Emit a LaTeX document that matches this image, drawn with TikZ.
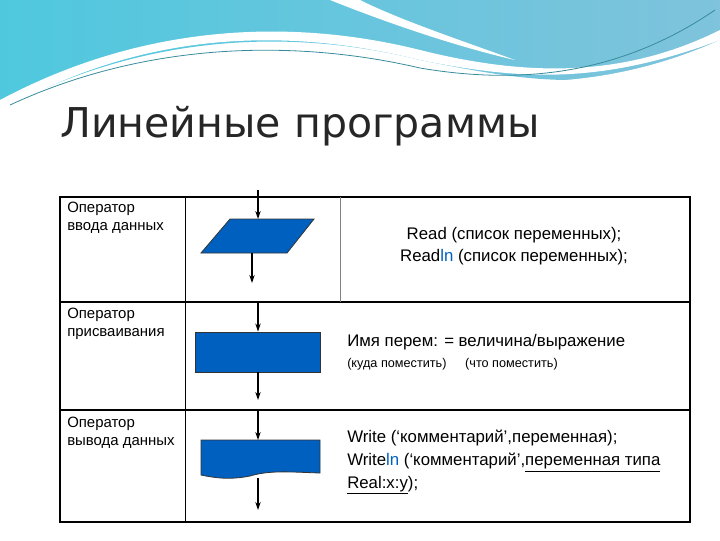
\documentclass[tikz,border=0pt]{standalone}
\usepackage{fontspec}
\setmainfont{Liberation Sans}
\newfontfamily\titlefont{DejaVu Sans}
\usetikzlibrary{arrows.meta}
\definecolor{blk}{HTML}{0060C0}
\definecolor{skyA}{HTML}{7FC3DC}
\definecolor{skyB}{HTML}{4FC8DE}
\begin{document}
\begin{tikzpicture}[x=0.75pt,y=-0.75pt,
  cell/.style={draw=black,line width=0.5pt},
  blockshape/.style={draw=black!80,fill=blk,line width=0.6pt},
  flow/.style={-{Stealth[length=6pt,width=4pt]},line width=1.2pt},
  txt/.style={font=\fontsize{11.2}{13}\selectfont,anchor=north west,inner sep=0pt,align=left},
  code/.style={font=\fontsize{12.6}{17}\selectfont,inner sep=0pt}]
\useasboundingbox (0,0) rectangle (720,540);
% banner
\shade[left color=skyB,right color=skyA] (0,0) -- (720,0) -- (720,40) .. controls (620,100) and (520,80) .. (420,60) .. controls (300,30) and (150,30) .. (0,110) -- cycle;
\fill[white] (0,112) .. controls (150,25) and (300,30) .. (420,60) .. controls (520,80) and (600,85) .. (720,40) -- (720,30) .. controls (620,80) and (520,75) .. (420,50) .. controls (300,20) and (150,20) .. (0,100) -- cycle;
\fill[white] (330,0) .. controls (380,20) and (450,45) .. (515,60) .. controls (460,40) and (400,20) .. (360,0) -- cycle;
\draw[skyB!70!black,line width=0.6pt] (10,105) .. controls (150,40) and (300,40) .. (420,68) .. controls (520,85) and (620,75) .. (715,10);
\fill[white] (0,112) .. controls (150,40) and (300,45) .. (420,72) .. controls (520,90) and (620,85) .. (720,40) -- (720,540) -- (0,540) -- cycle;
% title
\node[anchor=base west,inner sep=0pt,font=\titlefont\fontsize{30.8}{33}\selectfont,text=black!85] (title) at (60,137) {Линейные программы};
% table
\draw[cell,line width=1pt] (60,197) rectangle (690,522);
\draw[cell,line width=1pt] (60,302) -- (690,302) (60,410) -- (690,410);
\draw[cell] (185,197) -- (185,522);
\draw[cell,black!50] (340,197) -- (340,302);
% row labels
\node[txt] (l1) at (67,202) {Оператор\\ввода данных};
\node[txt] (l2) at (67,308) {Оператор\\присваивания};
\node[txt] (l3) at (67,417) {Оператор\\вывода данных};
% shapes
\coordinate (in1) at (258,190);
\fill[blk] (230,219) -- (314,219) -- (287,253) -- (201,253) -- cycle;
\draw[black!80,line width=0.6pt] (230,219) -- (314,219) -- (287,253) -- (201,253) -- cycle;
\coordinate (p1t) at (258,219); \coordinate (p1b) at (252,253); \coordinate (o1) at (252,283);
\draw[flow] (in1) -- (p1t);
\draw[flow] (p1b) -- (o1);
\node[blockshape,minimum width=125*0.75pt,minimum height=40*0.75pt,inner sep=0pt] (r2) at (257.5,352) {};
\coordinate (in2) at (258,302); \coordinate (o2) at (258,400);
\draw[flow] (in2) -- (r2.north-|in2);
\draw[flow] (r2.south-|o2) -- (o2);
\draw[blockshape] (201,440) -- (320,440) -- (320,473) .. controls (290,472) and (270,470) .. (250,476) .. controls (230,480) and (215,478) .. (201,475) -- cycle;
\coordinate (in3) at (258,410); \coordinate (t3) at (258,440);
\coordinate (b3) at (258,478); \coordinate (o3) at (258,510);
\draw[flow] (in3) -- (t3);
\draw[flow] (b3) -- (o3);
% code texts
\node[code,align=center] (c1) at (514,246) {Read (список переменных);\\Read\textcolor{blk}{ln} (список переменных);};
\node[code,anchor=west] (c2) at (347,342) {Имя перем: = величина/выражение};
\node[anchor=west,inner sep=0pt,font=\fontsize{9.5}{11}\selectfont] (c2b) at (347,364) {(куда поместить)\hspace{14pt}(что поместить)};
\node[code,anchor=north west,align=left] (c3) at (347,430) {Write (‘комментарий’,переменная);\\Write\textcolor{blk}{ln} (‘комментарий’,\underline{переменная типа}\\\underline{Real:x:y});};
\end{tikzpicture}
\end{document}
